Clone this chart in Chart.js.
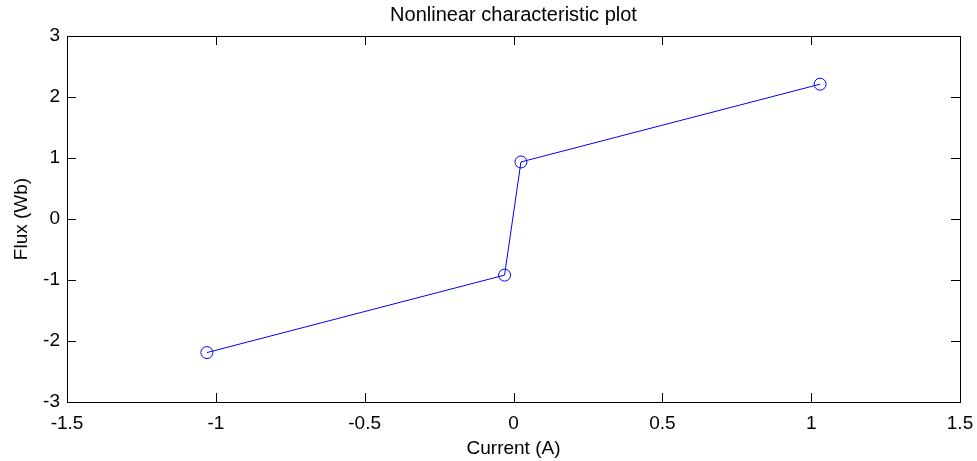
<!DOCTYPE html>
<html>
<head>
<meta charset="utf-8">
<script src="https://cdn.jsdelivr.net/npm/chart.js@4"></script>
<style>
  html, body { margin:0; padding:0; background:#fff; }
  #wrap { width:977px; height:461px; }
</style>
</head>
<body>
<div id="wrap"><canvas id="c" width="977" height="461"></canvas></div>
<script>
// values
const currentA = [-1.03, -0.03, 0.025, 1.03];
const fluxWb   = [-2.19, -0.92, 0.935, 2.21];
const xTicks = [-1.5, -1, -0.5, 0, 0.5, 1, 1.5];
const yTicks = [-3, -2, -1, 0, 1, 2, 3];

const FONT = 'Liberation Sans, Arial, sans-serif';

// MATLAB style box with inward ticks on all four sides
const boxTicks = {
  id: 'boxTicks',
  afterDraw(chart){
    const {ctx, chartArea:a, scales:{x, y}} = chart;
    const len = 9;
    ctx.save();
    ctx.strokeStyle = '#000';
    ctx.lineWidth = 1;
    ctx.strokeRect(a.left + 0.5, a.top + 0.5, a.right - a.left, a.bottom - a.top);
    ctx.beginPath();
    for(const v of xTicks){
      const px = Math.round(x.getPixelForValue(v)) + 0.5;
      ctx.moveTo(px, a.bottom); ctx.lineTo(px, a.bottom - len);
      ctx.moveTo(px, a.top); ctx.lineTo(px, a.top + len);
    }
    for(const v of yTicks){
      const py = Math.round(y.getPixelForValue(v)) + 0.5;
      ctx.moveTo(a.left, py); ctx.lineTo(a.left + len, py);
      ctx.moveTo(a.right, py); ctx.lineTo(a.right - len, py);
    }
    ctx.stroke();
    ctx.restore();
  }
};

new Chart(document.getElementById('c'), {
  type: 'scatter',
  data: {
    datasets: [{
      data: currentA.map((v, i) => ({x: v, y: fluxWb[i]})),
      showLine: true,
      borderColor: '#0000ff',
      borderWidth: 1,
      pointStyle: 'circle',
      pointRadius: 6,
      pointBorderColor: '#0000ff',
      pointBackgroundColor: 'rgba(0,0,0,0)',
      pointBorderWidth: 1,
      tension: 0
    }]
  },
  options: {
    responsive: false,
    animation: false,
    layout: { padding: { top: 0, right: 17, bottom: 0, left: 0 } },
    plugins: {
      legend: { display: false },
      tooltip: { enabled: false },
      title: {
        display: true,
        text: 'Nonlinear characteristic plot',
        fullSize: false,
        color: '#000',
        font: { family: FONT, size: 20, weight: 'normal', lineHeight: 1.2 },
        padding: { top: 3, bottom: 9 }
      }
    },
    scales: {
      x: {
        type: 'linear',
        min: -1.5, max: 1.5,
        afterBuildTicks: s => { s.ticks = xTicks.map(v => ({value: v})); },
        afterFit: s => { s.height = 59; s.paddingLeft = 0; s.paddingRight = 0; },
        grid: { display: false, drawTicks: false },
        border: { display: false },
        ticks: {
          color: '#000', padding: 10,
          font: { family: FONT, size: 19 },
          maxRotation: 0,
          callback: v => String(v)
        },
        title: {
          display: true, text: 'Current (A)', color: '#000',
          font: { family: FONT, size: 19, lineHeight: 1.2 },
          padding: { top: 0, bottom: 1 }
        }
      },
      y: {
        type: 'linear',
        min: -3, max: 3,
        afterBuildTicks: s => { s.ticks = yTicks.map(v => ({value: v})); },
        afterFit: s => { s.width = 67; s.paddingTop = 0; s.paddingBottom = 0; },
        grid: { display: false, drawTicks: false },
        border: { display: false },
        ticks: {
          color: '#000', padding: 7,
          font: { family: FONT, size: 19 },
          callback: v => String(v)
        },
        title: {
          display: true, text: 'Flux (Wb)', color: '#000',
          font: { family: FONT, size: 19, lineHeight: 1.2 },
          padding: { top: 10, bottom: 0 }
        }
      }
    }
  },
  plugins: [boxTicks]
});
</script>
</body>
</html>
